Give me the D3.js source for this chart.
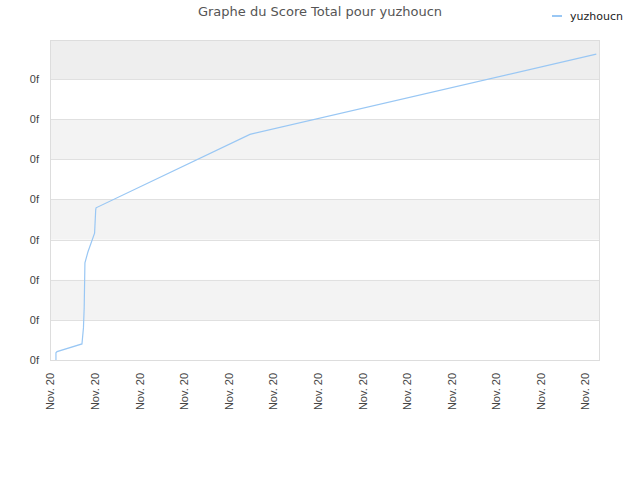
<!DOCTYPE html>
<html>
<head>
<meta charset="utf-8">
<script src="https://cdn.jsdelivr.net/npm/d3@7"></script>
<style>
  body { margin: 0; background: #fff; }
  svg { font-family: "DejaVu Sans", Verdana, sans-serif; }
</style>
</head>
<body>
<svg id="chart" width="640" height="480"></svg>
<script>
// score timeline (minutes after midnight, Nov 20) and total score
const minutes = [8, 8, 9.5, 43, 45, 46, 47, 51, 60, 61.5, 62, 269, 735];
const scores  = [0, 18, 21, 40, 80, 130, 242, 269, 316, 374, 379, 562, 762];
const seriesName = "yuzhoucn";
const yTicks = [0, 100, 200, 300, 400, 500, 600, 700];

const day = new Date(2020, 10, 20);
const data = minutes.map((m, i) => ({ t: new Date(day.getTime() + m * 60000), v: scores[i] }));

const svg = d3.select("#chart");
const margin = { top: 40, right: 40, bottom: 120, left: 50 };
const width = 640 - margin.left - margin.right;
const height = 480 - margin.top - margin.bottom;

const x = d3.scaleTime()
    .domain([day, new Date(day.getTime() + 740 * 60000)])
    .range([0, width]);
const y = d3.scaleLinear()
    .domain([0, 797])
    .range([height, 0]);

const g = svg.append("g").attr("transform", `translate(${margin.left},${margin.top})`);

// alternating bands between gridlines
const bandEdges = yTicks.concat([797]);
g.selectAll("rect.band")
    .data(d3.pairs(bandEdges))
    .join("rect")
    .attr("class", "band")
    .attr("x", 0)
    .attr("width", width)
    .attr("y", d => y(d[1]))
    .attr("height", d => y(d[0]) - y(d[1]))
    .attr("fill", (d, i) => i === 7 ? "#eeeeee" : (i % 2 ? "#f3f3f3" : "#ffffff"));

// gridlines
g.selectAll("line.grid")
    .data(yTicks)
    .join("line")
    .attr("x1", 0).attr("x2", width)
    .attr("y1", d => Math.round(y(d)) + 0.5).attr("y2", d => Math.round(y(d)) + 0.5)
    .attr("stroke", "#e0e0e0");

g.append("rect")
    .attr("x", 0.5).attr("y", 0.5)
    .attr("width", width - 1).attr("height", height)
    .attr("fill", "none")
    .attr("stroke", "#dddddd");

// y axis labels (the source formats them as "0f")
const yAxis = g.append("g")
    .call(d3.axisLeft(y).tickValues(yTicks).tickSize(0).tickPadding(11).tickFormat(() => "0f"));
yAxis.select(".domain").remove();
yAxis.selectAll("text").attr("fill", "#444").style("font-size", "11px");

// x axis labels
const xAxis = g.append("g")
    .attr("transform", `translate(0,${height})`)
    .call(d3.axisBottom(x).ticks(d3.timeHour.every(1)).tickSize(0).tickFormat(d3.timeFormat("%b. %d")));
xAxis.select(".domain").remove();
xAxis.selectAll("text")
    .attr("fill", "#444")
    .style("font-size", "11px")
    .attr("text-anchor", "end")
    .attr("transform", "rotate(-90)")
    .attr("x", -13)
    .attr("y", 0)
    .attr("dy", "0.35em");

// score line
const line = d3.line()
    .x(d => x(d.t))
    .y(d => y(d.v));

g.append("path")
    .datum(data)
    .attr("fill", "none")
    .attr("stroke", "#99c7f4")
    .attr("stroke-width", 1.2)
    .attr("d", line);

// title
svg.append("text")
    .attr("x", 320)
    .attr("y", 16)
    .attr("text-anchor", "middle")
    .attr("fill", "#555")
    .style("font-size", "13px")
    .text("Graphe du Score Total pour " + seriesName);

// legend
const legend = svg.append("g").attr("transform", "translate(552,16)");
legend.append("line")
    .attr("x1", 0).attr("x2", 10)
    .attr("y1", 0).attr("y2", 0)
    .attr("stroke", "#99c7f4")
    .attr("stroke-width", 2);
legend.append("text")
    .attr("x", 18)
    .attr("y", 0)
    .attr("dy", "0.35em")
    .attr("fill", "#222")
    .style("font-size", "11px")
    .text(seriesName);
</script>
</body>
</html>
